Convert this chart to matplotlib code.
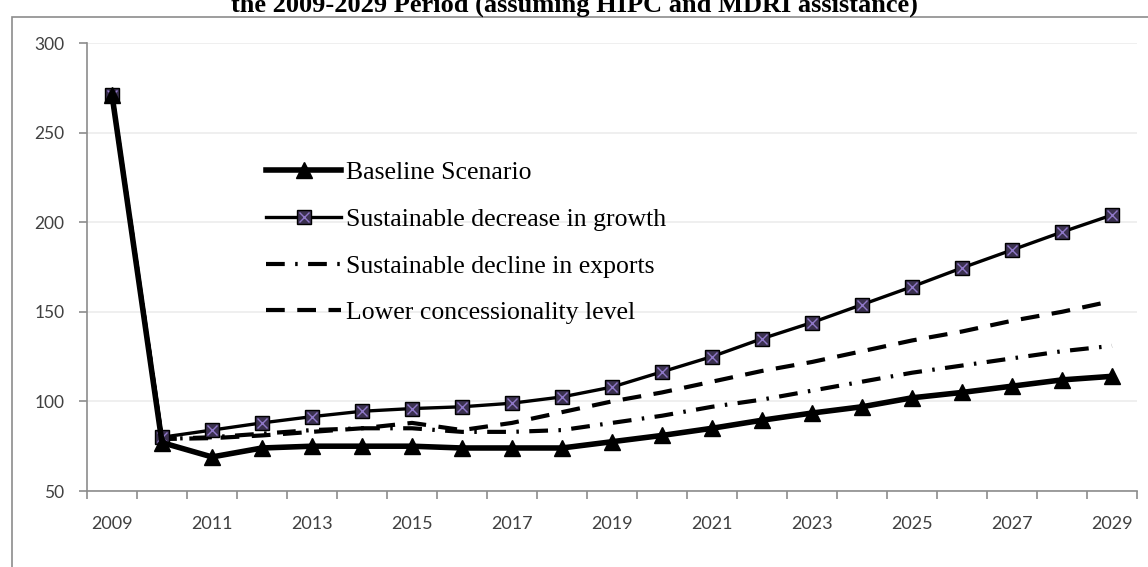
import numpy as np
import matplotlib
matplotlib.use("Agg")
import matplotlib.pyplot as plt
from matplotlib.lines import Line2D
from matplotlib.patches import Rectangle

# debt indicator under alternative scenarios, 2009-2029
years = list(range(2009, 2030))
baseline = [271, 77, 69, 74, 75, 75, 75, 74, 74, 74, 77.5, 81, 85, 89.5, 93.5, 97,
            102, 105, 108.5, 112, 114]
growth_shock = [271, 80, 84, 88, 91.5, 94.5, 96, 97, 99, 102.5, 108, 116.5, 125, 135, 144,
                154, 164, 174.5, 184.5, 194.5, 204]
export_shock = [271, 79, 80, 82, 84, 85, 85, 83, 83, 84, 88, 92, 97, 101, 106, 111,
                116, 120, 124, 128, 131]
concession_shock = [271, 79, 79.5, 81, 83, 85, 88, 84, 88, 94, 100, 105, 111, 117, 122,
                    128, 134, 139, 145, 150, 156]
series_names = ["Baseline Scenario", "Sustainable decrease in growth",
                "Sustainable decline in exports", "Lower concessionality level"]
title_text = "the 2009-2029 Period (assuming HIPC and MDRI assistance)"

serif = ["Liberation Serif", "DejaVu Serif"]
sans = ["Lato", "DejaVu Sans"]

fig = plt.figure(figsize=(11.48, 5.67), dpi=100)
ax = fig.add_axes([87 / 1148, 76 / 567, 1050 / 1148, 448 / 567])

x = np.arange(len(years))

ax.plot(x, concession_shock, color="black", lw=3.0, ls=(0, (4.5, 3.0)),
        dash_capstyle="butt", zorder=3)
ax.plot(x, export_shock, color="black", lw=3.0, ls=(0, (4.5, 2.5, 0.6, 2.5)),
        dash_capstyle="butt", zorder=3)
ax.plot(x, growth_shock, color="black", lw=2.4, zorder=4)
ax.plot(x, growth_shock, ls="none", marker="s", ms=9.5, mfc="#3b3150", mec="black",
        mew=1.0, zorder=5)
ax.plot(x, growth_shock, ls="none", marker="x", ms=7, mec="#8f78c8", mew=1.0, zorder=6)
ax.plot(x, baseline, color="black", lw=4.0, marker="^", ms=11, mfc="black", mec="black",
        zorder=7)

ax.set_xlim(-0.5, len(years) - 0.5)
ax.set_ylim(50, 300)
ax.set_yticks(np.arange(50, 301, 50))
ax.set_xticks(x[::2])
ax.set_xticklabels([str(y) for y in years[::2]])
ax.set_xticks(np.arange(-0.5, len(years), 1.0), minor=True)

ax.grid(axis="y", color="#ececec", lw=1.2, zorder=0)
for side in ("top", "right"):
    ax.spines[side].set_visible(False)
for side in ("left", "bottom"):
    ax.spines[side].set_color("#8c8c8c")
    ax.spines[side].set_linewidth(1.2)

ax.tick_params(axis="x", which="major", length=0, pad=18, labelsize=13,
               labelcolor="#404040")
ax.tick_params(axis="x", which="minor", length=5.8, width=1.2, color="#8c8c8c")
ax.tick_params(axis="y", length=5.8, width=1.2, color="#8c8c8c", pad=10.5, labelsize=12.5,
               labelcolor="#404040")
for lbl in ax.get_xticklabels() + ax.get_yticklabels():
    lbl.set_family(sans)

# legend handles
handles = [
    Line2D([], [], color="black", lw=4.0, marker="^", ms=11),
    (Line2D([], [], color="black", lw=2.4, marker="s", ms=9.5, mfc="#3b3150", mec="black"),
     Line2D([], [], ls="none", marker="x", ms=7, mec="#8f78c8", mew=1.0)),
    Line2D([], [], color="black", lw=3.0, ls=(0, (4.5, 2.5, 0.6, 2.5))),
    Line2D([], [], color="black", lw=3.0, ls=(0, (4.5, 3.0))),
]
leg = ax.legend(handles, series_names, loc="upper left",
                bbox_to_anchor=(169 / 1050, 1 - 108 / 448), frameon=False,
                prop={"family": serif, "size": 18.5}, handlelength=2.9,
                handletextpad=0.2, labelspacing=0.92, borderaxespad=0)

# chart frame and title
fig.patches.append(Rectangle((12 / 1148, -0.05), 1.1, (567 - 17) / 567 + 0.05,
                             transform=fig.transFigure, fill=False,
                             edgecolor="#8c8c8c", lw=1.2))
fig.text(0.5, (567 - 12) / 567, title_text, ha="center", va="baseline",
         fontsize=19, fontweight="bold", family=serif)

fig.savefig("out.png", dpi=100)
